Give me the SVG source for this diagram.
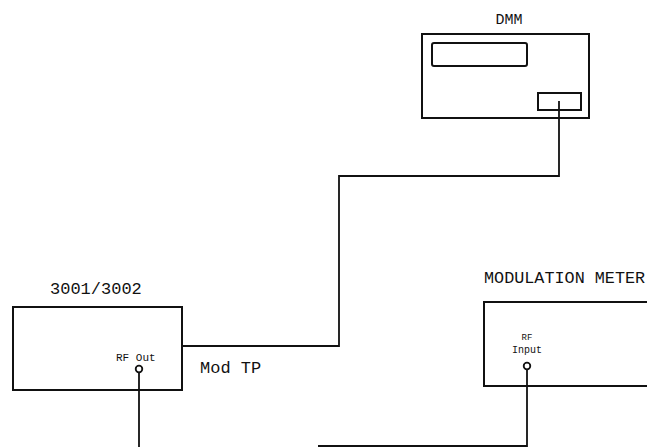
<svg xmlns="http://www.w3.org/2000/svg" width="647" height="448" viewBox="0 0 647 448">
<style>
.box{fill:none;stroke:#111;stroke-width:2}
.wire{fill:none;stroke:#111;stroke-width:1.8}
.port{fill:#fff;stroke:#111;stroke-width:1.8}
.t{font-family:"Liberation Mono","DejaVu Sans Mono",monospace;fill:#111}
</style>
<rect width="647" height="448" fill="#fff"/>
<g id="connectors">
<polyline class="wire" points="559,101 559,176 339,176 339,346 182,346"/>
<polyline class="wire" points="139,372 139,447"/>
<polyline class="wire" points="318,446 527,446 527,369"/>
</g>
<g id="dmm">
<text class="t" x="509" y="24" font-size="15" text-anchor="middle">DMM</text>
<rect class="box" x="422" y="34" width="167" height="84"/>
<rect class="box" x="432" y="43" width="95" height="23" rx="2"/>
<rect class="box" x="538" y="93" width="43" height="17"/>
</g>
<g id="gen">
<text class="t" x="50" y="294" font-size="17">3001/3002</text>
<rect class="box" x="13" y="307" width="169" height="83"/>
<text class="t" x="116" y="361" font-size="11">RF Out</text>
<circle class="port" cx="139" cy="369" r="3.3"/>
</g>
<g id="modtp">
<text class="t" x="200" y="373" font-size="17">Mod TP</text>
</g>
<g id="modmeter">
<text class="t" x="484" y="283" font-size="16.8">MODULATION METER</text>
<polyline class="box" points="650,302 484,302 484,386 650,386"/>
<text class="t" x="527" y="340" font-size="9" text-anchor="middle">RF</text>
<text class="t" x="527" y="353" font-size="10" text-anchor="middle">Input</text>
<circle class="port" cx="527" cy="366" r="3.3"/>
</g>
</svg>
